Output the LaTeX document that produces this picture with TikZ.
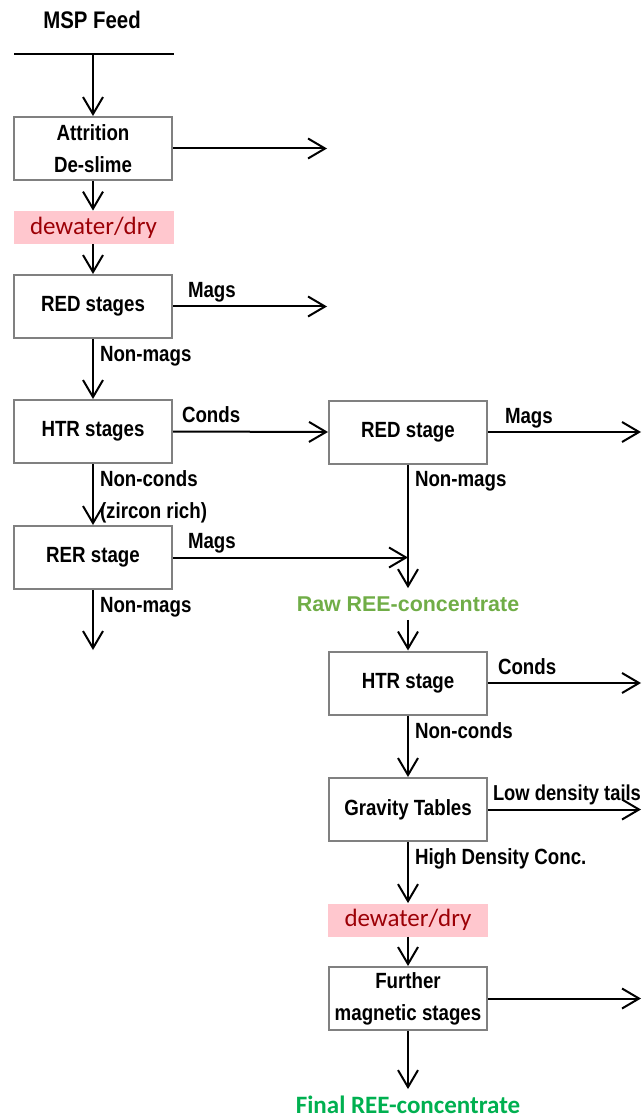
\documentclass[tikz,border=0pt]{standalone}
\usepackage{fontspec}
\setmainfont[FakeStretch=0.85]{Liberation Sans}
\newfontfamily\rawfont{Liberation Sans}
\newfontfamily\calfont{Carlito}
\usepackage{tikz}
\usetikzlibrary{arrows.meta}
\usetikzlibrary{positioning}
\definecolor{dryfill}{HTML}{FFC7CE}
\definecolor{drytext}{HTML}{9C0006}
\definecolor{rawgreen}{HTML}{70AD47}
\definecolor{finalgreen}{HTML}{00B050}
\tikzset{
  stagebox/.style={draw=gray, line width=1pt, minimum width=79pt, minimum height=31.5pt, inner sep=1pt, align=center, font=\bfseries\fontsize{11}{16}\selectfont},
  drybox/.style={fill=dryfill, text=drytext, minimum width=80pt, minimum height=16.5pt, inner sep=0pt, font=\calfont\fontsize{12.5}{14}\selectfont},
  flow/.style={line width=1pt, -{Straight Barb[length=8.5pt,width=10pt]}},
  hlbl/.style={anchor=base west, inner sep=0pt, yshift=4.5pt, font=\bfseries\fontsize{11}{12}\selectfont},
  vlbl/.style={anchor=north west, inner sep=0pt, xshift=3pt, yshift=-3pt, align=left, font=\bfseries\fontsize{11}{16}\selectfont}
}

\begin{document}
\begin{tikzpicture}[x=0.5pt,y=-0.5pt]
	\useasboundingbox (0,0) rectangle (643,1117);
	\node[font=\bfseries\fontsize{12}{12}\selectfont] (feed) at (92,20) {MSP Feed};
	\coordinate (feedL) at (14,54);
	\coordinate (feedR) at (174,54);
	\coordinate (feedM) at (93,54);
	\draw[line width=1pt] (feedL) -- (feedR);
	\node[stagebox] (attr) at (93,148.5) {Attrition\\De-slime};
	\node[drybox] (dryA) at (93.5,227.5) {dewater/dry};
	\node[stagebox] (redA) at (93,306.5) {RED stages};
	\node[stagebox] (htrA) at (93,431.5) {HTR stages};
	\node[stagebox] (rer) at (93,557.5) {RER stage};
	\coordinate (slimes) at (327,148.5);
	\coordinate (magsA) at (327,306.5);
	\coordinate (zircon) at (93,650);
	\draw[flow] (feedM) -- (attr.north);
	\draw[flow] (attr.east) -- (slimes);
	\draw[flow] (attr.south) -- (dryA.north -| attr.south);
	\draw[flow] (dryA.south -| redA.north) -- (redA.north);
	\draw[flow] (redA.east) -- node[pos=0, hlbl, xshift=7pt] {Mags} (magsA);
	\draw[flow] (redA.south) -- node[pos=0, vlbl] {Non-mags} (htrA.north);
	\draw[flow] (htrA.south) -- node[pos=0, vlbl] {Non-conds\\(zircon rich)} (rer.north);
	\draw[flow] (rer.south) -- node[pos=0, vlbl] {Non-mags} (zircon);
	\node[font=\rawfont\bfseries\fontsize{10.7}{12}\selectfont, text=rawgreen, inner sep=4pt] (raw) at (408,604) {Raw REE-concentrate};
	\node[stagebox] (redB) at (408,432) {RED stage};
	\node[stagebox] (htrB) at (408,683) {HTR stage};
	\node[stagebox] (grav) at (408,809.5) {Gravity Tables};
	\node[drybox] (dryB) at (408,920) {dewater/dry};
	\node[stagebox] (mag) at (408,998.5) {Further\\magnetic stages};
	\node[font=\calfont\bfseries\fontsize{12.5}{14}\selectfont, text=finalgreen] (final) at (408,1105) {Final REE-concentrate};
	\coordinate (magsB) at (641,432);
	\coordinate (condsB) at (641,683);
	\coordinate (tails) at (641,809.5);
	\coordinate (magsC) at (641,998.5);
	\draw[flow] (htrA.east) -- node[pos=0, hlbl, xshift=4pt] {Conds} (redB.west);
	\draw[flow] (redB.east) -- node[pos=0, hlbl, xshift=8pt] {Mags} (magsB);
	\draw[flow] (redB.south) -- node[pos=0, vlbl] {Non-mags} (raw.north);
	\draw[flow] (rer.east) -- node[pos=0, hlbl, xshift=7pt] {Mags} (rer.east -| redB.south);
	\draw[flow] (raw.south) -- (htrB.north);
	\draw[flow] (htrB.east) -- node[pos=0, hlbl, xshift=4.5pt] {Conds} (condsB);
	\draw[flow] (htrB.south) -- node[pos=0, vlbl] {Non-conds} (grav.north);
	\draw[flow] (grav.east) -- node[pos=0, hlbl, xshift=2pt, font=\bfseries\fontsize{10.8}{12}\selectfont] {Low density tails} (tails);
	\draw[flow] (grav.south) -- node[pos=0, vlbl] {High Density Conc.} (dryB.north);
	\draw[flow] (dryB.south) -- (mag.north);
	\draw[flow] (mag.east) -- (magsC);
	\draw[flow] (mag.south) -- (final.north);
\end{tikzpicture}
\end{document}
